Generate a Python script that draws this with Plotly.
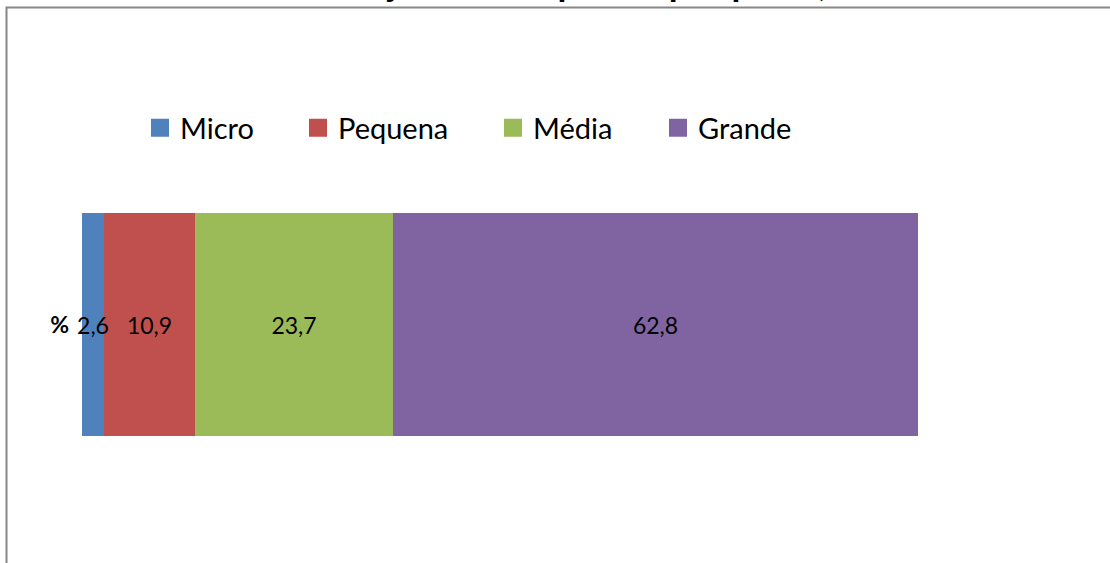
import plotly.graph_objects as go
from itertools import accumulate

# ---- data ----
categories = ["%"]
series_names = ["Micro", "Pequena", "Média", "Grande"]
series_values = [2.6, 10.9, 23.7, 62.8]
series_colors = ["#4F81BD", "#C0504D", "#9BBB59", "#8064A2"]
title_text = "Distribuição das empresas por porte, 2012"

W, H = 1110, 563
ML, MR, MT, MB = 82, 192, 213, 127
PW = W - ML - MR
PH = H - MT - MB

def px_to_paper_x(px):
    return (px - ML) / PW

def px_to_paper_y(py):
    return 1 + (MT - py) / PH

fig = go.Figure()

# cumulative bases so that segments stack; add in reverse so the small
# "Micro" label is drawn on top of the neighbouring segment
bases = [0] + list(accumulate(series_values))[:-1]
series = list(zip(series_names, series_values, series_colors, bases))
for name, val, col, base in reversed(series):
    fig.add_trace(go.Bar(
        y=categories, x=[val], base=[base], orientation="h", name=name,
        marker=dict(color=col, line=dict(width=0)),
        text=[f"{val:.1f}".replace(".", ",")],
        textposition="inside", insidetextanchor="middle",
        constraintext="none", textangle=0, cliponaxis=False,
        textfont=dict(family="Lato", size=23, color="black"),
        showlegend=False, hoverinfo="skip",
    ))

# legend entries (one legend per series, placed like the original)
legend_centers_px = [161, 319, 514, 679]
legend_ids = ["legend", "legend2", "legend3", "legend4"]
for name, col, lid in zip(series_names, series_colors, legend_ids):
    fig.add_trace(go.Scatter(
        x=[None], y=[None], mode="markers", name=name,
        marker=dict(symbol="square", size=16, color=col, line=dict(width=2, color=col)),
        legend=lid, showlegend=True, hoverinfo="skip",
    ))

legend_common = dict(
    orientation="h", xref="container", yref="container",
    xanchor="left", yanchor="middle",
    y=1 - 128 / H,
    font=dict(family="Lato", size=29, color="black"),
    bgcolor="rgba(0,0,0,0)", borderwidth=0,
)
layout_legends = {}
for lid, cx in zip(legend_ids, legend_centers_px):
    layout_legends[lid] = dict(legend_common, x=(cx - 21) / W)

fig.update_layout(
    width=W, height=H,
    margin=dict(l=ML, r=MR, t=MT, b=MB, pad=0),
    paper_bgcolor="white", plot_bgcolor="white",
    barmode="overlay", bargap=0,
    font=dict(family="Lato", color="black"),
    xaxis=dict(range=[0, 100], showgrid=False, zeroline=False,
               showticklabels=False, showline=False, fixedrange=True),
    yaxis=dict(range=[-0.5, 0.5], showgrid=False, zeroline=False, showline=False,
               ticks="", ticklabelstandoff=12,
               tickfont=dict(family="Lato", size=23, color="black", weight="bold"),
               fixedrange=True),
    **layout_legends,
)

# title (mostly cropped at the top edge of the picture)
fig.add_annotation(
    text="<b>" + title_text + "</b>", showarrow=False,
    xref="paper", yref="paper",
    x=px_to_paper_x(240), y=px_to_paper_y(6.5),
    xanchor="left", yanchor="bottom",
    font=dict(family="Lato", size=36, color="black"),
)

# chart frame border (extends beyond right/bottom of the picture)
fig.add_shape(
    type="rect", xref="paper", yref="paper",
    x0=px_to_paper_x(6.5), x1=px_to_paper_x(1200),
    y0=px_to_paper_y(700), y1=px_to_paper_y(7.5),
    line=dict(color="#878787", width=2), fillcolor="rgba(0,0,0,0)", layer="below",
)

fig.write_html(
    "out.html",
    config={"displayModeBar": False},
    post_script="document.body.style.margin='0';document.body.style.overflow='hidden';",
)
